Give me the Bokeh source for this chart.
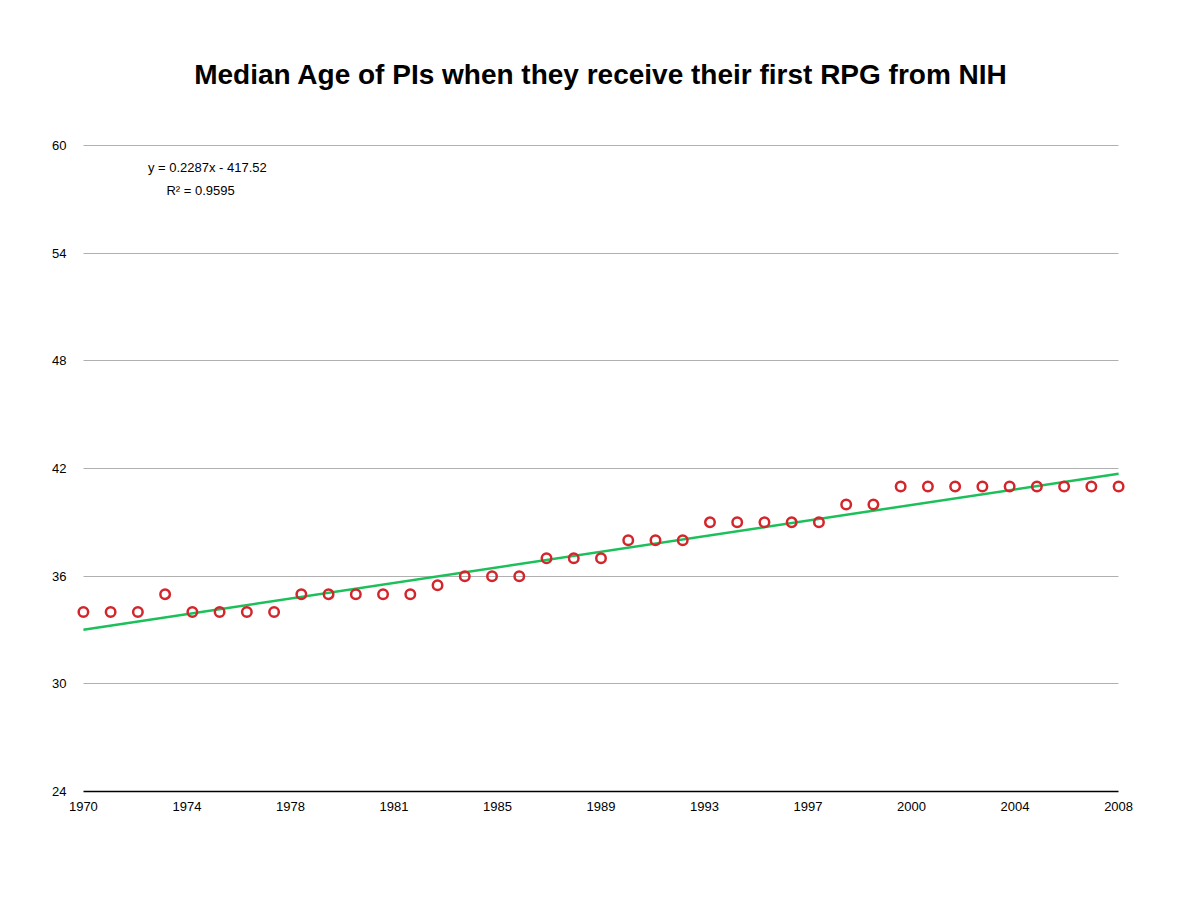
from bokeh.plotting import figure
from bokeh.models import Range1d, FixedTicker, Label
from bokeh.embed import file_html
from bokeh.resources import INLINE
import numpy as np

years = list(range(1970, 2009))
median_age = [34, 34, 34, 35, 34, 34, 34, 34, 35, 35,
              35, 35, 35, 35.5, 36, 36, 36, 37, 37, 37,
              38, 38, 38, 39, 39, 39, 39, 39, 40, 40,
              41, 41, 41, 41, 41, 41, 41, 41, 41]
slope = 0.2287
intercept = -417.52
r_squared = 0.9595
y_ticks = [24, 30, 36, 42, 48, 54, 60]
x_tick_labels = ["1970", "1974", "1978", "1981", "1985", "1989",
                 "1993", "1997", "2000", "2004", "2008"]

FONT = "Liberation Sans"
pad = 0.4
p = figure(frame_width=1057, frame_height=647,
           x_range=Range1d(years[0] - pad, years[-1] + pad),
           y_range=Range1d(y_ticks[0], y_ticks[-1] + 0.06),
           output_backend="svg", toolbar_location=None,
           min_border_left=72, min_border_right=55,
           min_border_top=144, min_border_bottom=100,
           outline_line_color=None,
           title="Median Age of PIs when they receive their first RPG from NIH")

p.title.align = "center"
p.title.text_font = FONT
p.title.text_font_size = "28px"
p.title.text_font_style = "bold"
p.title.text_color = "black"
p.title.standoff = 110

# x axis
x_ticks = [round(v, 6) for v in np.linspace(years[0], years[-1], len(x_tick_labels))]
p.xaxis.ticker = FixedTicker(ticks=x_ticks)
p.xaxis.major_label_overrides = {t: lab for t, lab in zip(x_ticks, x_tick_labels)}
p.xaxis.bounds = (years[0], years[-1])
p.xaxis.axis_line_color = "black"
p.xaxis.axis_line_width = 1.5
p.xaxis.major_tick_line_color = None
p.xaxis.minor_tick_line_color = None
p.xaxis.major_label_standoff = 4
p.xaxis.major_label_text_font = FONT
p.xaxis.major_label_text_font_size = "13px"
p.xaxis.major_label_text_color = "black"

# y axis
p.yaxis.ticker = FixedTicker(ticks=y_ticks)
p.yaxis.axis_line_color = None
p.yaxis.major_tick_line_color = None
p.yaxis.minor_tick_line_color = None
p.yaxis.major_label_standoff = 0
p.yaxis.major_label_text_font = FONT
p.yaxis.major_label_text_font_size = "13px"
p.yaxis.major_label_text_color = "black"

p.xgrid.grid_line_color = None
p.ygrid.grid_line_color = "#b0b0b0"
p.ygrid.grid_line_width = 1
p.ygrid.cross_bounds = (years[0], years[-1])

# trend line from regression coefficients
tx = [years[0], years[-1]]
ty = [slope * x + intercept for x in tx]
p.line(tx, ty, line_color="#1cc05a", line_width=2.5)

p.scatter(years, median_age, size=9.5, marker="circle",
          line_color="#d3262c", line_width=2.5, fill_color=None)

p.add_layout(Label(x=1974.55, y=58.78, text=f"y = {slope}x - {abs(intercept)}",
                   text_align="center", text_baseline="middle",
                   text_font=FONT, text_font_size="13px", text_color="black"))
p.add_layout(Label(x=1974.3, y=57.5, text=f"R² = {r_squared}",
                   text_align="center", text_baseline="middle",
                   text_font=FONT, text_font_size="13px", text_color="black"))

open("out.html", "w").write(file_html(p, INLINE))
